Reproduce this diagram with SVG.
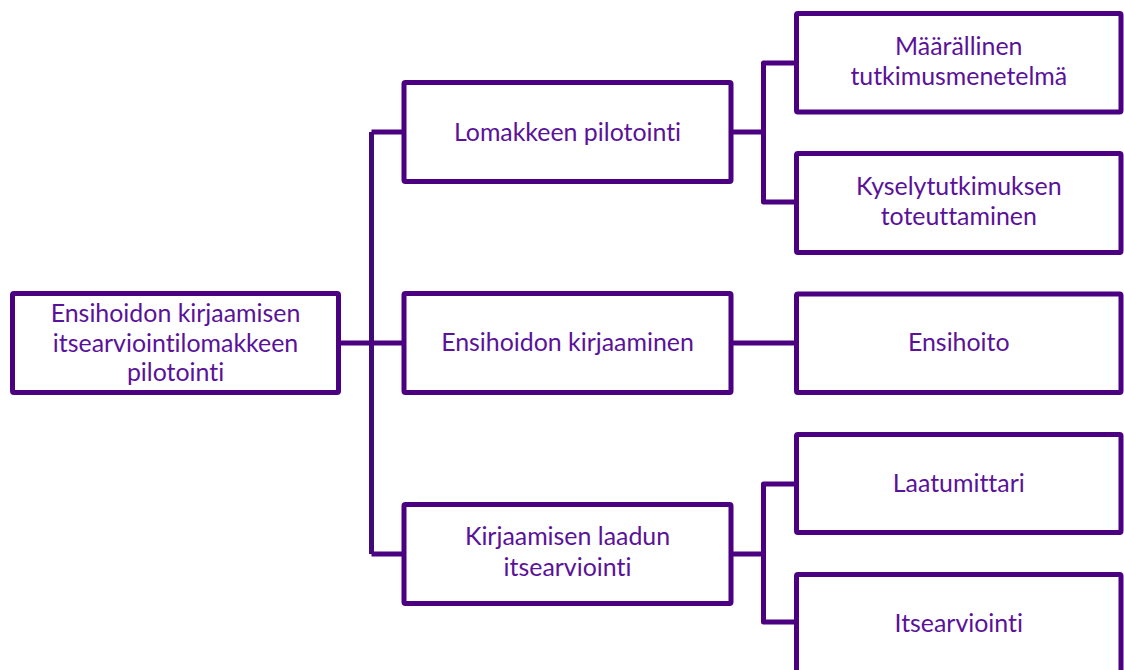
<svg xmlns="http://www.w3.org/2000/svg" width="1124" height="670" viewBox="0 0 1124 670">
<style>
.box{fill:#fff;stroke:#4b0082;stroke-width:5}
.con{fill:none;stroke:#4b0082;stroke-width:5;stroke-linejoin:round}
.trunk{stroke:#420a78}
text{font-family:Lato,"Open Sans","Noto Sans",sans-serif;font-size:24.9px;fill:#5a1299;text-anchor:middle;font-variant-ligatures:none;font-feature-settings:"liga" 0,"dlig" 0}
</style>
<rect width="1124" height="670" fill="#fff"/>
<g id="connectors">
<path class="con trunk" d="M371.5 132V554"/>
<path class="con" d="M404 132H371.5M404 554H371.5M338.5 343H404"/>
<path class="con" d="M731 132H763.5M796.5 63H763.5V202H796.5"/>
<path class="con" d="M731 343H796.5"/>
<path class="con" d="M731 554H763.5M796.5 484H763.5V622H796.5"/>
</g>
<g id="root"><rect class="box" x="12.5" y="293.5" width="326" height="99" rx="1.5"/>
<text x="175.5" y="322">Ensihoidon kirjaamisen</text><text x="175.5" y="351.5">itsearviointilomakkeen</text><text x="175.5" y="381">pilotointi</text></g>
<g id="n1"><rect class="box" x="404" y="82.5" width="327" height="99" rx="1.5"/><text x="567.5" y="141">Lomakkeen pilotointi</text></g>
<g id="n2"><rect class="box" x="404" y="293.5" width="327" height="99" rx="1.5"/><text x="567.5" y="351">Ensihoidon kirjaaminen</text></g>
<g id="n3"><rect class="box" x="404" y="504.5" width="327" height="99" rx="1.5"/><text x="567.5" y="545">Kirjaamisen laadun</text><text x="567.5" y="575.5">itsearviointi</text></g>
<g id="n11"><rect class="box" x="796.5" y="13.5" width="324.5" height="98.5" rx="1.5"/><text x="958.75" y="55">Määrällinen</text><text x="958.75" y="85">tutkimusmenetelmä</text></g>
<g id="n12"><rect class="box" x="796.5" y="153.5" width="324.5" height="99" rx="1.5"/><text x="958.75" y="195">Kyselytutkimuksen</text><text x="958.75" y="225">toteuttaminen</text></g>
<g id="n21"><rect class="box" x="796.5" y="294" width="324.5" height="98.5" rx="1.5"/><text x="958.75" y="351">Ensihoito</text></g>
<g id="n31"><rect class="box" x="796.5" y="434.5" width="324.5" height="98" rx="1.5"/><text x="958.75" y="492">Laatumittari</text></g>
<g id="n32"><rect class="box" x="796.5" y="574.5" width="324.5" height="110" rx="1.5"/><text x="958.75" y="632">Itsearviointi</text></g>
</svg>
